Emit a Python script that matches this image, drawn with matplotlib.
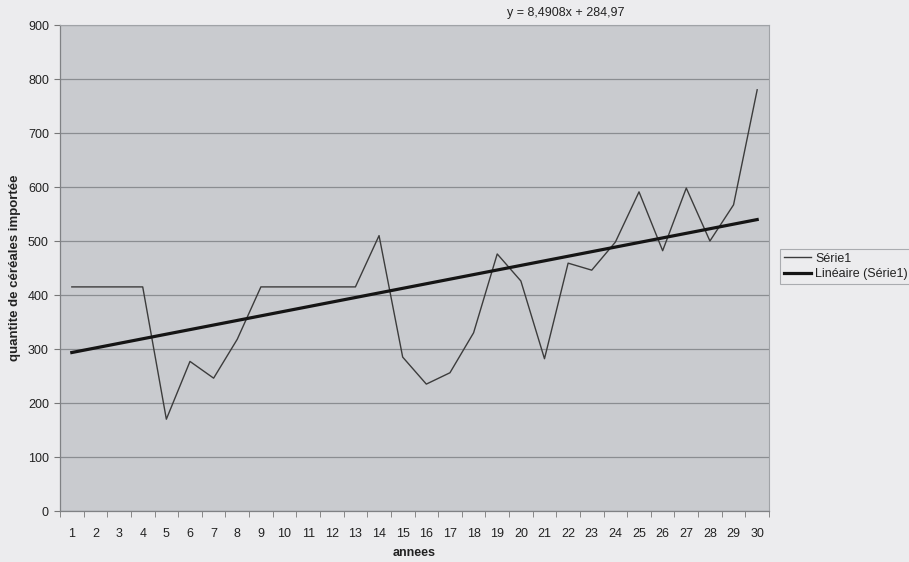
import matplotlib
matplotlib.use("Agg")
import matplotlib.pyplot as plt
import numpy as np

plt.rcParams['font.family'] = ['Liberation Sans', 'DejaVu Sans']

annees = list(range(1, 31))
serie1 = [415, 415, 415, 415, 170, 277, 246, 318, 415, 415,
          415, 415, 415, 510, 285, 235, 256, 330, 476, 426,
          282, 459, 446, 498, 591, 482, 598, 500, 567, 780]
trend_slope = 8.4908
trend_intercept = 284.97
y_ticks = [0, 100, 200, 300, 400, 500, 600, 700, 800, 900]

fig = plt.figure(figsize=(9.09, 5.62), dpi=100)
fig.patch.set_facecolor('#ececee')
ax = fig.add_axes([60/909, 1-511/562, (769-60)/909, (511-25)/562])
ax.set_facecolor('#c9cbcf')

x = np.array(annees)
ax.plot(x, serie1, color='#3c3c3c', lw=1.0, label='Série1')
ax.plot(x, trend_slope*x + trend_intercept, color='#151515', lw=2.3,
        label='Linéaire (Série1)')

ax.set_xlim(0.5, 30.5)
ax.set_ylim(0, 900)
ax.set_yticks(y_ticks)
ax.set_xticks(annees)
ax.set_xticks(np.arange(0.5, 31, 1), minor=True)
ax.tick_params(axis='x', which='major', length=0, labelsize=9, pad=12, colors='#222222')
ax.tick_params(axis='x', which='minor', length=4, direction='out', color='#777777')
ax.tick_params(axis='y', length=4, direction='out', labelsize=9, pad=4, color='#777777', colors='#222222')
ax.yaxis.grid(True, color='#8a8d91', lw=0.9)
ax.set_axisbelow(True)
for s in ['top', 'right']:
    ax.spines[s].set_color('#a0a3a7')
    ax.spines[s].set_linewidth(0.8)
for s in ['left', 'bottom']:
    ax.spines[s].set_color('#808285')
    ax.spines[s].set_linewidth(0.9)

ax.set_xlabel('annees', fontsize=9, fontweight='bold', labelpad=5, color='#222222')
ax.set_ylabel('quantite de céréales importée', fontsize=9.5, fontweight='bold',
              labelpad=5, color='#222222')

fig.text(566/909, 1-13/562, 'y = 8,4908x + 284,97', fontsize=9, ha='center',
         va='center', color='#222222')

leg = fig.legend(loc='upper left', bbox_to_anchor=(780/909, 1-249/562),
                 fontsize=9, frameon=True, fancybox=False, handlelength=2.2,
                 handletextpad=0.3, borderpad=0.3, labelspacing=0.25,
                 borderaxespad=0)
leg.get_frame().set_edgecolor('#9a9da1')
leg.get_frame().set_facecolor('#ececee')
leg.get_frame().set_linewidth(0.8)
for t in leg.get_texts():
    t.set_color('#222222')

fig.savefig('out.png', dpi=100, facecolor=fig.get_facecolor())
